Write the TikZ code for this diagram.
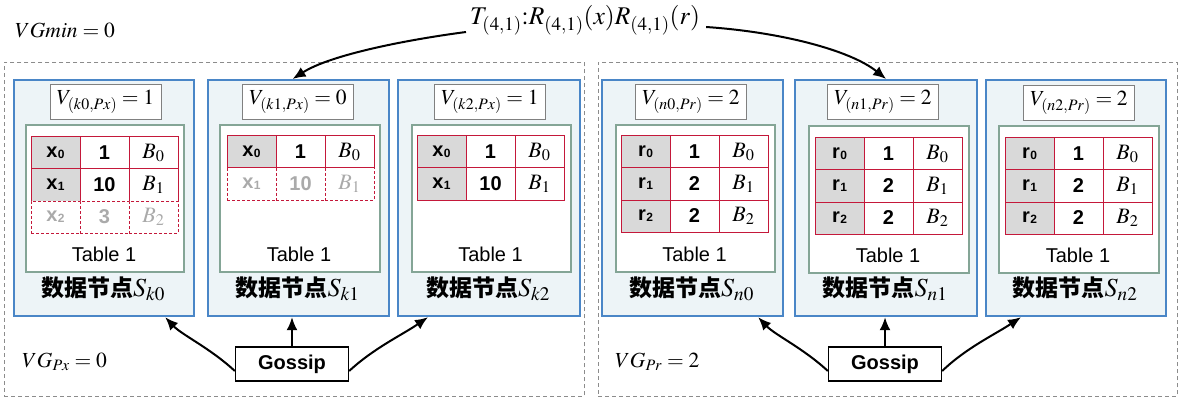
\documentclass[tikz,border=0pt]{standalone}
\usepackage{mathptmx}
\usepackage[no-math]{fontspec}
\setmainfont{Liberation Sans}
\newfontfamily\cjk{Noto Sans CJK SC}
\usetikzlibrary{arrows.meta}
\definecolor{blueC}{RGB}{74,134,199}
\definecolor{blueF}{RGB}{237,244,247}
\definecolor{greenC}{RGB}{132,165,150}
\definecolor{redC}{RGB}{196,24,58}
\definecolor{keyF}{RGB}{217,217,217}
\definecolor{ghostT}{RGB}{170,170,170}
\definecolor{dashC}{RGB}{140,140,140}
\definecolor{vboxC}{RGB}{128,128,128}
\newcommand\sx[2]{#1\kern0.5pt\raisebox{-1pt}{\fontsize{12}{12}\selectfont #2}}
\newcommand\bcell[1]{{\fontsize{22}{26}\selectfont$B_{#1}$}}
\newcommand\nodelab[2]{{\cjk\bfseries 数据节点}{\fontsize{26}{30}\selectfont$S_{#1#2}$}}
\newcommand\cellrow[7]{%
  \node[cellbox,keycell,#4,anchor=north west] (#1a) at (#2,#3) {#5};
  \node[cellbox,#4,anchor=north west] (#1b) at (#2+49,#3) {#6};
  \node[cellbox,#4,anchor=north west] (#1c) at (#2+98,#3) {#7};
}
\begin{document}
\begin{tikzpicture}[x=1pt,y=-1pt,
  groupbox/.style={draw=dashC,line width=0.9pt,dash pattern=on 4pt off 3pt,minimum width=580,minimum height=334,anchor=north west,inner sep=0},
  nodebox/.style={draw=blueC,fill=blueF,line width=2.2pt,minimum height=236,anchor=north west,inner sep=0},
  vbox/.style={draw=vboxC,fill=white,line width=1pt,minimum width=111,minimum height=35,inner sep=0,font=\fontsize{21.5}{25}\selectfont},
  tframe/.style={draw=greenC,fill=white,line width=2.2pt,minimum width=158,minimum height=147,anchor=north west,inner sep=0},
  cellbox/.style={draw=redC,fill=white,line width=1pt,minimum width=49,minimum height=32,inner sep=0,outer sep=0,font=\fontsize{20}{24}\selectfont\bfseries},
  keycell/.style={fill=keyF},
  ghost/.style={dash pattern=on 3pt off 2pt,fill=white,text=ghostT},
  tlabel/.style={inner sep=0,font=\fontsize{20}{24}\selectfont},
  slabel/.style={inner sep=0,font=\fontsize{23}{27}\selectfont},
  gossip/.style={draw=black,fill=white,line width=1.3pt,minimum width=113,minimum height=34,inner sep=0,font=\fontsize{20}{24}\selectfont\bfseries},
  mathlab/.style={inner sep=0,anchor=west,font=\fontsize{21.5}{25}\selectfont},
  arr/.style={-{Latex[length=13pt,width=11pt]},line width=2pt,black}
]
\useasboundingbox (0,0) rectangle (1182,398);

% group boxes
\node[groupbox] (gL) at (4,62) {};
\node[groupbox,minimum width=579] (gR) at (598,62) {};

% top labels
\node[mathlab] (vgmin) at (15,30) {$VGmin = 0$};
\node[anchor=base west,inner sep=0,font=\fontsize{25.5}{30}\selectfont] (f) at (470,25) {$T_{(4,1)}{:}R_{(4,1)}(x)R_{(4,1)}(r)$};

% data nodes
\node[nodebox,minimum width=180] (k0) at (13,79) {};
\node[nodebox,minimum width=181] (k1) at (207,79) {};
\node[nodebox,minimum width=182] (k2) at (397,79) {};
\node[nodebox,minimum width=181] (n0) at (601,79) {};
\node[nodebox,minimum width=182] (n1) at (794,79) {};
\node[nodebox,minimum width=180] (n2) at (985,79) {};

% version boxes
\node[vbox] (vk0) at (105.5,102) {$V_{(k0,Px)} = 1$};
\node[vbox] (vk1) at (298,102) {$V_{(k1,Px)} = 0$};
\node[vbox] (vk2) at (490,102) {$V_{(k2,Px)} = 1$};
\node[vbox] (vn0) at (691,102) {$V_{(n0,Pr)} = 2$};
\node[vbox] (vn1) at (883,102) {$V_{(n1,Pr)} = 2$};
\node[vbox] (vn2) at (1079,103) {$V_{(n2,Pr)} = 2$};

% table frames
\node[tframe] (tk0) at (25,124) {};
\node[tframe,minimum width=160] (tk1) at (219,124) {};
\node[tframe,minimum width=159] (tk2) at (411,124) {};
\node[tframe,minimum width=159] (tn0) at (615,124) {};
\node[tframe,minimum width=160] (tn1) at (808,125) {};
\node[tframe,minimum width=160] (tn2) at (998,125) {};

% table cells
\cellrow{k0r0}{31}{137}{}{\sx{x}{0}}{1}{\bcell{0}}
\cellrow{k0r1}{31}{169}{}{\sx{x}{1}}{10}{\bcell{1}}
\cellrow{k0r2}{31}{201}{ghost}{\sx{x}{2}}{3}{\bcell{2}}

\cellrow{k1r0}{227}{136}{}{\sx{x}{0}}{1}{\bcell{0}}
\cellrow{k1r1}{227}{168}{ghost}{\sx{x}{1}}{10}{\bcell{1}}

\cellrow{k2r0}{417}{136}{}{\sx{x}{0}}{1}{\bcell{0}}
\cellrow{k2r1}{417}{168}{}{\sx{x}{1}}{10}{\bcell{1}}

\cellrow{n0r0}{621}{136}{}{\sx{r}{0}}{1}{\bcell{0}}
\cellrow{n0r1}{621}{168}{}{\sx{r}{1}}{2}{\bcell{1}}
\cellrow{n0r2}{621}{200}{}{\sx{r}{2}}{2}{\bcell{2}}

\cellrow{n1r0}{815}{138}{}{\sx{r}{0}}{1}{\bcell{0}}
\cellrow{n1r1}{815}{170}{}{\sx{r}{1}}{2}{\bcell{1}}
\cellrow{n1r2}{815}{202}{}{\sx{r}{2}}{2}{\bcell{2}}

\cellrow{n2r0}{1005}{138}{}{\sx{r}{0}}{1}{\bcell{0}}
\cellrow{n2r1}{1005}{170}{}{\sx{r}{1}}{2}{\bcell{1}}
\cellrow{n2r2}{1005}{202}{}{\sx{r}{2}}{2}{\bcell{2}}

% table captions
\node[tlabel] (ck0) at (104,254) {Table 1};
\node[tlabel] (ck1) at (299,254) {Table 1};
\node[tlabel] (ck2) at (490.5,254) {Table 1};
\node[tlabel] (cn0) at (694.5,254) {Table 1};
\node[tlabel] (cn1) at (888,255) {Table 1};
\node[tlabel] (cn2) at (1078,255) {Table 1};

% node labels
\node[slabel] (sk0) at (103,289) {\nodelab{k}{0}};
\node[slabel] (sk1) at (297.5,289) {\nodelab{k}{1}};
\node[slabel] (sk2) at (488,289) {\nodelab{k}{2}};
\node[slabel] (sn0) at (691.5,289) {\nodelab{n}{0}};
\node[slabel] (sn1) at (885,289) {\nodelab{n}{1}};
\node[slabel] (sn2) at (1075,289) {\nodelab{n}{2}};

% gossip
\node[gossip] (gl) at (292,364) {Gossip};
\node[gossip] (gr) at (885,364) {Gossip};

\node[mathlab] (vgx) at (22,362) {$VG_{Px} = 0$};
\node[mathlab] (vgr) at (615,362) {$VG_{Pr} = 2$};

% gossip arrows
\draw[arr] (gl.north) -- (gl.north |- k1.south);
\draw[arr] ([yshift=-7]gl.west) .. controls (210,348) and (182,335) .. ([xshift=-30]k0.south east);
\draw[arr] ([yshift=-7]gl.east) .. controls (374,348) and (402,335) .. ([xshift=31]k2.south west);
\draw[arr] (gr.north) -- (gr.north |- n1.south);
\draw[arr] ([yshift=-7]gr.west) .. controls (803,348) and (775,335) .. ([xshift=-26]n0.south east);
\draw[arr] ([yshift=-7]gr.east) .. controls (966,348) and (994,335) .. ([xshift=36]n2.south west);

% top arrows
\draw[arr] ([shift={(-4,7)}]f.base west) .. controls (405,40) and (330,55) .. ([xshift=-6]k1.north);
\draw[arr] ([shift={(6,2)}]f.base east) .. controls (780,32) and (850,50) .. (n1.north);
\end{tikzpicture}
\end{document}
